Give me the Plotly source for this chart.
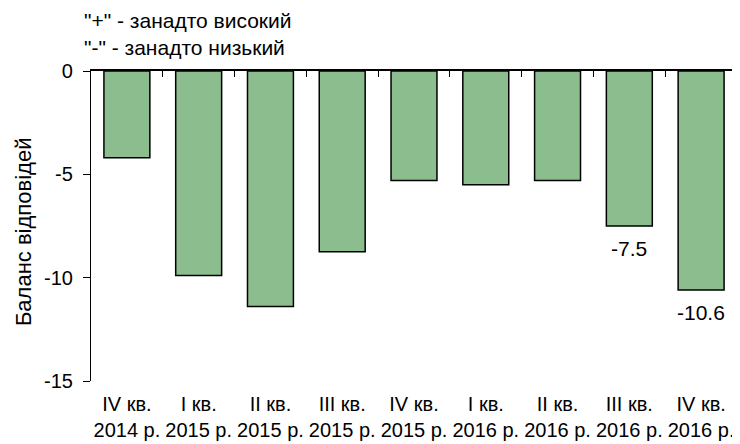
import plotly.graph_objects as go

categories = ["IV кв.<br>2014 р.", "I кв.<br>2015 р.", "II кв.<br>2015 р.", "III кв.<br>2015 р.",
              "IV кв.<br>2015 р.", "I кв.<br>2016 р.", "II кв.<br>2016 р.", "III кв.<br>2016 р.",
              "IV кв.<br>2016 р."]
values = [-4.2, -9.9, -11.4, -8.75, -5.3, -5.5, -5.3, -7.5, -10.6]
labels = ["", "", "", "", "", "", "", "-7.5", "-10.6"]
boundaries = [0.5, 1.5, 2.5, 3.5, 4.5, 5.5, 6.5, 7.5, 8.5]
y_ticks = [-15, -10, -5, 0]
y_ticktext = ["-15", "-10", "-5", "0"]

FONT = "Liberation Sans, Arial, sans-serif"
FS = 21

fig = go.Figure()
fig.add_trace(go.Bar(
    x=list(range(len(categories))), y=values,
    marker=dict(color="#8bbd8e", line=dict(color="black", width=1.5)),
    showlegend=False,
))
# invisible trace to carry the top axis with boundary ticks
fig.add_trace(go.Scatter(x=[0], y=[0], xaxis="x2", mode="markers",
                         marker=dict(opacity=0), showlegend=False, hoverinfo="skip"))

for i, lab in enumerate(labels):
    if lab:
        fig.add_annotation(x=i, y=values[i], xref="x", yref="y", text=lab, showarrow=False,
                           yanchor="middle", yshift=-22,
                           font=dict(size=FS, family=FONT, color="black"))

fig.add_annotation(
    text='"+" - занадто високий<br>"-" - занадто низький',
    xref="paper", yref="paper", x=-0.014, y=1.206, xanchor="left", yanchor="top",
    showarrow=False, align="left", font=dict(size=FS, family=FONT, color="black"),
)
# y-axis title
fig.add_annotation(
    text="Баланс відповідей", textangle=-90,
    xref="paper", yref="paper", x=-0.1045, y=0.482, xanchor="center", yanchor="middle",
    showarrow=False, font=dict(size=22, family=FONT, color="black"),
)

# page body has an 8px margin, so the figure is sized and offset to compensate
fig.update_layout(
    width=732, height=436,
    margin=dict(l=83, r=3, t=63, b=63, autoexpand=False),
    paper_bgcolor="white", plot_bgcolor="white",
    font=dict(family=FONT, size=FS, color="black"),
    bargap=0.36,
    xaxis=dict(
        tickmode="array", tickvals=list(range(len(categories))), ticktext=categories,
        range=[-0.5, 8.5], showline=False, ticks="", showgrid=False, zeroline=False,
        tickangle=0,
        tickfont=dict(size=20, family=FONT, color="black"),
        ticklabelstandoff=9, automargin=False,
    ),
    xaxis2=dict(
        overlaying="x", side="top", range=[-0.5, 8.5], tickmode="array",
        tickvals=boundaries, showticklabels=False, ticks="inside", ticklen=6,
        tickcolor="black", tickwidth=1.2, showline=True, linecolor="black", linewidth=1.5,
        showgrid=False, zeroline=False, automargin=False,
    ),
    yaxis=dict(
        range=[-15, 0], tickmode="array", tickvals=y_ticks, ticktext=y_ticktext,
        showline=True, linecolor="black", linewidth=1.2,
        ticks="outside", ticklen=7, tickcolor="black", showgrid=False, zeroline=False,
        tickfont=dict(size=20, family=FONT, color="black"),
        ticklabelstandoff=6, automargin=False,
    ),
)

fig.write_html("out.html")
